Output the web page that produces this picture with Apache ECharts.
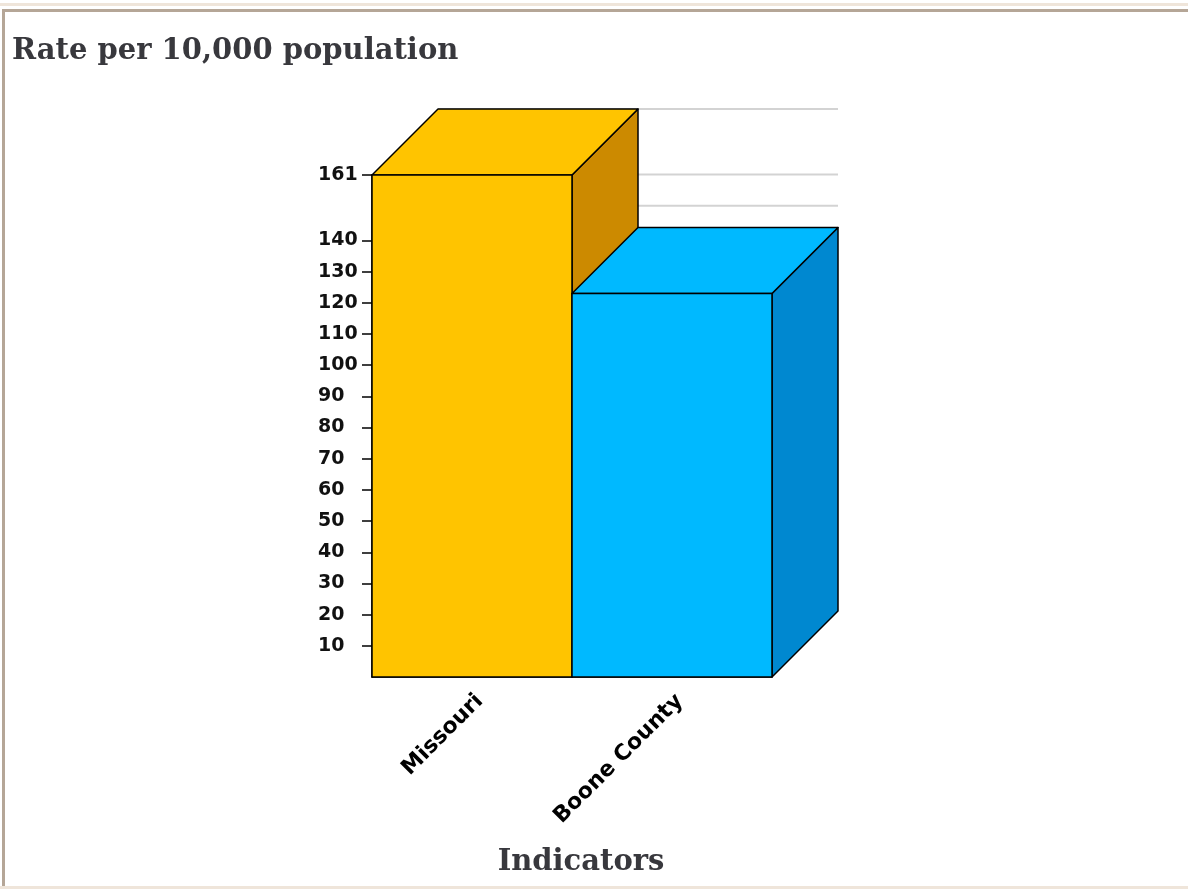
<!DOCTYPE html>
<html>
<head>
<meta charset="utf-8">
<script src="https://cdn.jsdelivr.net/npm/echarts@6/dist/echarts.min.js"></script>
<style>
  html, body { margin: 0; padding: 0; background: #fff; }
  #topline { position: absolute; left: 0; top: 3px; width: 1188px; height: 3px; background: #efe5da; }
  #frame { position: absolute; left: 2px; top: 9px; width: 1186px; height: 877px;
           border-top: 3px solid #b5a697; border-left: 3px solid #b5a697; box-sizing: border-box; }
  #bottomline { position: absolute; left: 0; top: 886px; width: 1188px; height: 3px; background: #efe5da; }
  #chart { position: absolute; left: 0; top: 0; width: 1188px; height: 892px; }
</style>
</head>
<body>
<div id="topline"></div>
<div id="frame"></div>
<div id="bottomline"></div>
<div id="chart"></div>
<script>
// ---- data ----
const categories = ['Missouri', 'Boone County'];
const rateValues = [161, 123];
const yTickValues = [10, 20, 30, 40, 50, 60, 70, 80, 90, 100, 110, 120, 130, 140, 161];
const yMax = 161;

// ---- styles ----
const frontColors = ['#FFC400', '#00B9FF'];
const sideColors = ['#CC8A00', '#0088D0'];
const topColors = ['#FFC400', '#00B9FF'];
const DEPTH_RATIO = 0.33;

const chart = echarts.init(document.getElementById('chart'));

function barItem(params, api) {
  const cat = api.value(0), val = api.value(1);
  const top = api.coord([cat, val]);
  const bot = api.coord([cat, 0]);
  const w = api.size([1, 0])[0];
  const d = w * DEPTH_RATIO;
  const x0 = top[0] - w / 2, x1 = top[0] + w / 2;
  const yt = top[1], yb = bot[1];
  const i = params.dataIndex;
  const line = { stroke: '#000', lineWidth: 1.5, lineJoin: 'round' };
  return {
    type: 'group',
    children: [
      { type: 'polygon', shape: { points: [[x1, yt], [x1 + d, yt - d], [x1 + d, yb - d], [x1, yb]] },
        style: Object.assign({ fill: sideColors[i] }, line) },
      { type: 'polygon', shape: { points: [[x0, yt], [x0 + d, yt - d], [x1 + d, yt - d], [x1, yt]] },
        style: Object.assign({ fill: topColors[i] }, line) },
      { type: 'rect', shape: { x: x0, y: yt, width: w, height: yb - yt },
        style: Object.assign({ fill: frontColors[i] }, line) }
    ]
  };
}

function gridItem(params, api) {
  const cs = params.coordSys;
  const y = api.coord([0, api.value(1)])[1];
  const w = api.size([1, 0])[0];
  const d = w * DEPTH_RATIO;
  return {
    type: 'line',
    shape: { x1: cs.x + d, y1: y - d, x2: cs.x + cs.width + d, y2: y - d },
    style: { stroke: '#d3d3d3', lineWidth: 2 }
  };
}

chart.setOption({
  animation: false,
  title: [
    { text: 'Rate per 10,000 population', left: 7, top: 32,
      textStyle: { fontFamily: 'DejaVu Serif', fontWeight: 'bold', fontSize: 29, color: '#38383d' } },
    { text: 'Indicators', left: 576, top: 843, textAlign: 'center',
      textStyle: { fontFamily: 'DejaVu Serif', fontWeight: 'bold', fontSize: 29, color: '#38383d' } }
  ],
  grid: { left: 372, top: 175, width: 400, height: 502 },
  xAxis: {
    type: 'category',
    data: categories,
    axisLine: { show: true, lineStyle: { color: '#000', width: 1.5 } },
    axisTick: { show: false },
    axisLabel: { rotate: 45, margin: 13, interval: 0, verticalAlign: 'top',
      fontFamily: 'DejaVu Sans', fontWeight: 'bold', fontSize: 22, color: '#000' }
  },
  yAxis: {
    type: 'value',
    min: 0, max: yMax,
    axisLine: { show: true, lineStyle: { color: '#000', width: 1.5 } },
    axisTick: { show: true, length: 10, customValues: yTickValues, lineStyle: { color: '#000', width: 1.5 } },
    axisLabel: { customValues: yTickValues, align: 'left', margin: 54,
      fontFamily: 'DejaVu Sans', fontWeight: 'bold', fontSize: 19, color: '#111' },
    splitLine: { show: false }
  },
  series: [
    { type: 'custom', z: 1, renderItem: gridItem,
      data: yTickValues.map(v => [0, v]), silent: true },
    { type: 'custom', z: 2, renderItem: barItem,
      data: rateValues.map((v, i) => [i, v]) }
  ]
});
</script>
</body>
</html>
